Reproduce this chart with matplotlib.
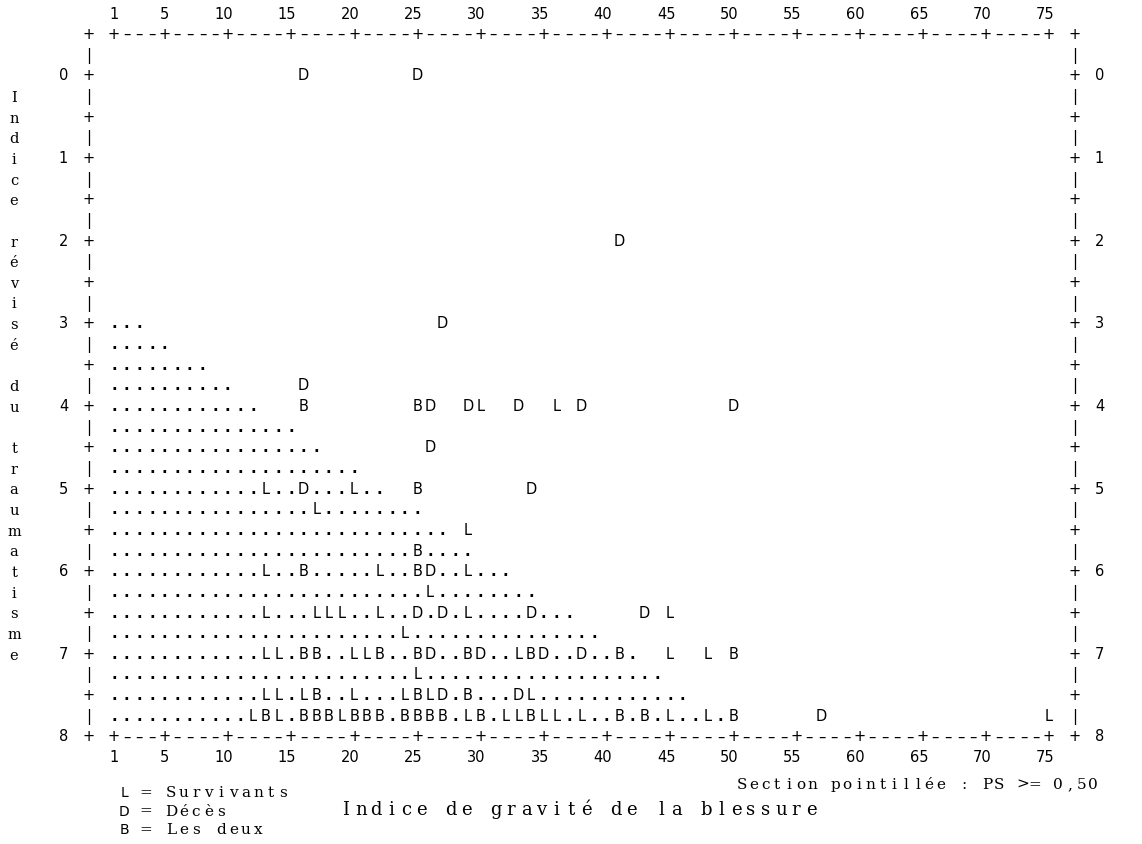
import matplotlib
matplotlib.use("Agg")
import matplotlib.pyplot as plt

# graduations des axes
iss_ticks = [1, 5, 10, 15, 20, 25, 30, 35, 40, 45, 50, 55, 60, 65, 70, 75]
rts_ticks = [0, 1, 2, 3, 4, 5, 6, 7, 8]

# section pointillée (PS >= 0,50) : dernier ISS pointillé pour chaque rangée de RTS
dot_rts = [3.0, 3.25, 3.5, 3.75, 4.0, 4.25, 4.5, 4.75, 5.0, 5.25,
           5.5, 5.75, 6.0, 6.25, 6.5, 6.75, 7.0, 7.25, 7.5, 7.75]
dot_max_iss = [3, 5, 8, 10, 12, 15, 17, 20, 22, 25,
               27, 29, 32, 34, 37, 39, 42, 44, 46, 49]

# L = Survivants
surv_rts = [4, 4, 5, 5, 5.25, 5.5, 6, 6, 6, 6.25,
            6.5, 6.5, 6.5, 6.5, 6.5, 6.5, 6.5, 6.75,
            7, 7, 7, 7, 7, 7, 7, 7.25,
            7.5, 7.5, 7.5, 7.5, 7.5, 7.5, 7.5,
            7.75, 7.75, 7.75, 7.75, 7.75, 7.75, 7.75, 7.75, 7.75, 7.75, 7.75, 7.75]
surv_iss = [30, 36, 13, 20, 17, 29, 13, 22, 29, 26,
            13, 17, 18, 19, 22, 29, 45, 24,
            13, 14, 20, 21, 33, 45, 48, 25,
            13, 14, 16, 20, 24, 26, 34,
            12, 14, 19, 29, 32, 33, 35, 36, 38, 45, 48, 75]

# D = Décès
dec_rts = [0, 0, 2, 3, 3.75, 4, 4, 4, 4, 4, 4.5, 5, 5, 6,
           6.5, 6.5, 6.5, 6.5, 7, 7, 7, 7, 7.5, 7.5, 7.75]
dec_iss = [16, 25, 41, 27, 16, 26, 29, 33, 38, 50, 26, 16, 34, 26,
           25, 27, 34, 43, 26, 30, 35, 38, 27, 33, 57]

# B = Les deux
both_rts = [4, 4, 5, 5.75, 6, 6,
            7, 7, 7, 7, 7, 7, 7, 7,
            7.5, 7.5, 7.5,
            7.75, 7.75, 7.75, 7.75, 7.75, 7.75, 7.75, 7.75,
            7.75, 7.75, 7.75, 7.75, 7.75, 7.75, 7.75, 7.75]
both_iss = [16, 25, 25, 25, 16, 25,
            16, 17, 22, 25, 29, 34, 41, 50,
            17, 25, 29,
            13, 16, 17, 18, 20, 21, 22, 24,
            25, 26, 27, 30, 34, 41, 43, 50]

W, H = 1142, 844
X0, DX = 114, 12.635   # pixel de ISS 1, pixels par point d'ISS
Y0, DY = 75, 82.62     # pixel de RTS 0, pixels par point de RTS

fig = plt.figure(figsize=(W / 100, H / 100), dpi=100)
ax = fig.add_axes([0, 0, 1, 1])
ax.set_xlim(1 - X0 / DX, 1 + (W - X0) / DX)
ax.set_ylim((H - Y0) / DY, -Y0 / DY)
ax.axis("off")

base = 5.5 / DY
sans = dict(family="DejaVu Sans", fontsize=10.5, color="black",
            ha="center", va="baseline")


def put(x, y, ch, **kw):
    ax.text(x, y + base, ch, **{**sans, **kw})


# cadre en caractères
left, right = -1, 77
top, bottom = -0.5, 8
for x in [left, right]:
    for y in [top, bottom]:
        put(x, y, "+")
for x in range(1, 76):
    if x in iss_ticks:
        put(x, top, "+")
        put(x, bottom, "+")
    else:
        put(x, top, "\u2013")
        put(x, bottom, "\u2013")
y = top + 0.25
while y < bottom:
    ch = "+" if (y * 2) == int(y * 2) else "|"
    put(left, y, ch)
    put(right, y, ch)
    y += 0.25

for t in iss_ticks:
    off = 0 if t < 10 else -0.3
    ax.text(t + off, top - 0.25 + base, str(t), **sans)
    ax.text(t + off, bottom + 0.25 + base, str(t), **sans)
for t in rts_ticks:
    put(-3, t, str(t))
    put(79, t, str(t))

# points et lettres
marks = {}
for xs, ys, ch in [(surv_iss, surv_rts, "L"), (dec_iss, dec_rts, "D"),
                   (both_iss, both_rts, "B")]:
    for x, y in zip(xs, ys):
        marks[(x, y)] = ch
for y, xmax in zip(dot_rts, dot_max_iss):
    for x in range(1, xmax + 1):
        if (x, y) not in marks:
            put(x, y, ".", fontweight="bold")
for (x, y), ch in marks.items():
    put(x, y, ch)

# textes en police à chasse fixe (style Courier)
serif = dict(family="DejaVu Serif", fontsize=10.5, color="black",
             ha="center", va="baseline")


def mono(x0, yb, s, pitch, **kw):
    for i, ch in enumerate(s):
        if ch != " ":
            fig.text((x0 + i * pitch) / W, 1 - yb / H, ch, **{**serif, **kw})


mono(346, 815, "Indice de gravité de la blessure", 15.0, fontsize=13)
mono(742, 789, "Section pointillée : PS >= 0,50", 11.7, fontsize=11)
legend_keys = ["L", "D", "B"]
legend_text = ["Survivants", "Décès", "Les deux"]
for i, (k, t) in enumerate(zip(legend_keys, legend_text)):
    yb = 797 + i * 18.5
    fig.text(124 / W, 1 - yb / H, k, family="DejaVu Sans", fontsize=10,
             ha="center", va="baseline")
    mono(146, yb, "= " + t, 12.5, fontsize=11)

ylab = "Indice révisé du traumatisme"
for i, ch in enumerate(ylab):
    if ch != " ":
        yc = 97 + i * 20.65
        fig.text(14 / W, 1 - (yc + 5) / H, ch, **serif)

fig.savefig("out.png", dpi=100, facecolor="white")
